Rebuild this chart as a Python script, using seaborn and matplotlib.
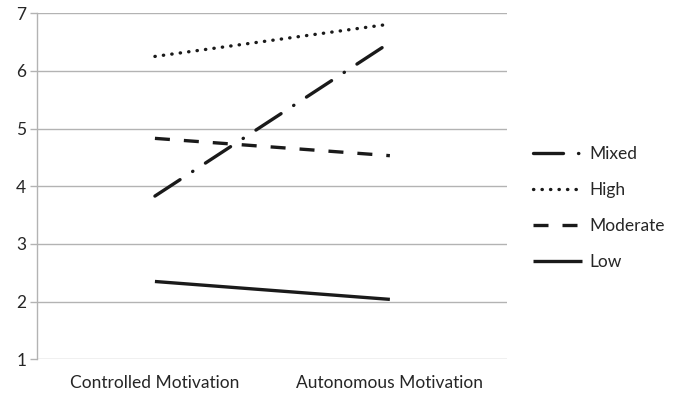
import pandas as pd
import numpy as np
import matplotlib
matplotlib.use("Agg")
import matplotlib.pyplot as plt
import seaborn as sns

categories = ["Controlled Motivation", "Autonomous Motivation"]
groups = ["Mixed", "High", "Moderate", "Low"]
mixed = [3.83, 6.49]
high = [6.25, 6.81]
moderate = [4.83, 4.53]
low = [2.35, 2.04]
yticks = [1, 2, 3, 4, 5, 6, 7]

data = pd.DataFrame({
    "motivation": categories * 4,
    "group": np.repeat(groups, 2),
    "score": mixed + high + moderate + low,
})

sns.set_style("white")
plt.rcParams["font.family"] = ["Lato", "DejaVu Sans"]

fig = plt.figure(figsize=(6.81, 3.98), dpi=100)
ax = fig.add_axes([0.055, 0.097, 0.69, 0.87])

# line styles (dash patterns in units of linewidth)
styles = {
    "Mixed": dict(dashes=(9, 4.5, 0.1, 4.5), dash_capstyle="round"),
    "High": dict(dashes=(0.1, 2.45), dash_capstyle="round"),
    "Moderate": dict(dashes=(4.5, 4.2), dash_capstyle="butt"),
    "Low": dict(linestyle="-", solid_capstyle="butt"),
}

for g in groups:
    sub = data[data["group"] == g]
    sns.lineplot(data=sub, x="motivation", y="score", ax=ax, color="#1a1a1a",
                 lw=2.4, label=g, sort=False, **styles[g])

ax.set_xlim(-0.5, 1.5)
ax.set_ylim(1, 7)
ax.set_yticks(yticks)
ax.yaxis.grid(True, color="#b3b3b3", lw=1)
ax.set_axisbelow(True)
ax.set_xlabel("")
ax.set_ylabel("")
for s in ["top", "right", "bottom"]:
    ax.spines[s].set_visible(False)
ax.spines["left"].set_color("#b3b3b3")
ax.spines["left"].set_linewidth(1)

ax.tick_params(axis="x", which="major", length=0, pad=11, labelsize=12.5, labelcolor="#262626")
ax.set_xticks([-0.5, 0.5, 1.5], minor=True)
ax.tick_params(axis="x", which="minor", length=4, color="#b3b3b3", width=1, direction="out")
ax.tick_params(axis="y", length=5, color="#b3b3b3", width=1, direction="out", labelsize=12.5,
               labelcolor="#262626", pad=3, left=True)

ax.legend(loc="center left", bbox_to_anchor=(1.04, 0.436), frameon=False, fontsize=12.5,
          handlelength=2.8, handletextpad=0.45, labelspacing=1.15, borderaxespad=0)

fig.savefig("out.png", dpi=100)
